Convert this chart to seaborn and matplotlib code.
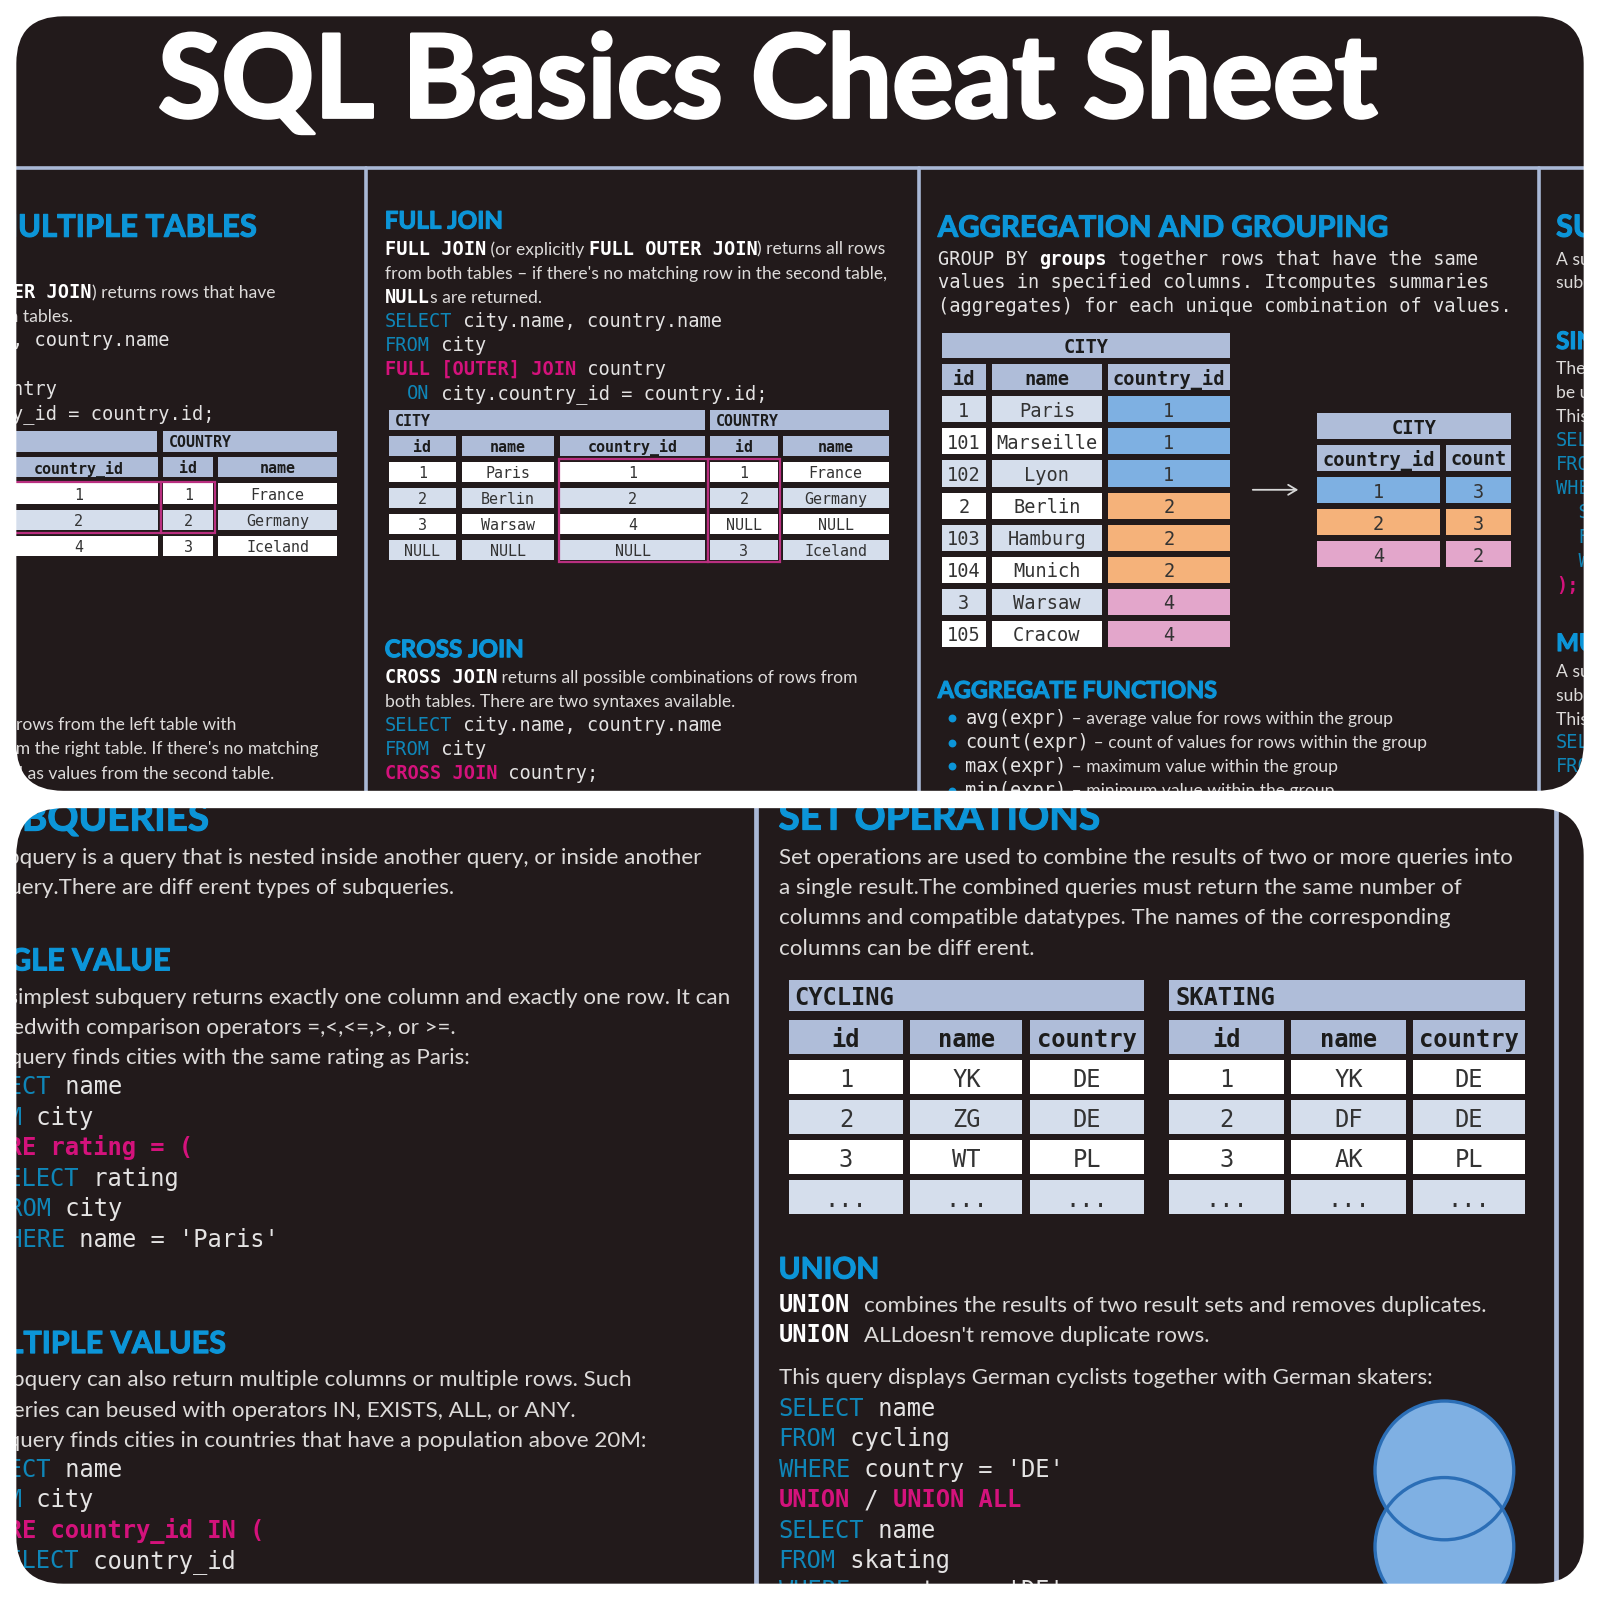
import numpy as np
import matplotlib
matplotlib.use("Agg")
import matplotlib.pyplot as plt
import matplotlib.patheffects as pe
import seaborn as sns
from matplotlib.colors import ListedColormap
from matplotlib.patches import FancyBboxPatch, PathPatch, Circle, Rectangle
from matplotlib.path import Path

sns.set_theme(style="white")
plt.rcParams["font.family"] = ["Lato", "DejaVu Sans"]

# picture was measured in a 1568 wide view
W = 1568
BG = "#221a1b"
RULE = "#a9b8d6"
HEAD_BLUE = "#0c95d8"
KEY_BLUE = "#0f86b8"
PINK = "#d4127c"
BODY = "#dddbda"
CODE = "#e4e3e3"
OUTLINE = "#b92f80"
CELL_TEXT = "#333333"

cell_colors = ["#ffffff", "#d5deec", "#afbdd9", "#7eb0e2", "#f5b27a", "#e3a6cb"]
WHITE, LIGHT, HEAD, BLUE, ORANGE, ROSE = range(6)

# text
title = "SQL Basics Cheat Sheet"

inner_lines = [
    [("SELECT city.name, country.name", "c")],
    [("FROM city", "c")],
    [("[INNER] JOIN country", "c")],
    [("  ON city.country_id = country.id;", "c")],
]
left_join_lines = [
    "LEFT JOIN returns all rows from the left table with",
    "matching rows from the right table. If there's no matching",
    "row, NULLs are returned as values from the second table.",
]
full_join_lines = [
    [("FULL JOIN", "b"), (" (or explicitly ", "t"), ("FULL OUTER JOIN", "b"), (") returns all rows", "t")],
    [("from both tables – if there's no matching row in the second table,", "t")],
    [("NULL", "b"), ("s are returned.", "t")],
    [("SELECT", "k"), (" city.name, country.name", "c")],
    [("FROM", "k"), (" city", "c")],
    [("FULL [OUTER] JOIN", "p"), (" country", "c")],
    [("  ", "c"), ("ON", "k"), (" city.country_id = country.id;", "c")],
]
cross_join_lines = [
    [("CROSS JOIN", "b"), (" returns all possible combinations of rows from", "t")],
    [("both tables. There are two syntaxes available.", "t")],
    [("SELECT", "k"), (" city.name, country.name", "c")],
    [("FROM", "k"), (" city", "c")],
    [("CROSS JOIN", "p"), (" country;", "c")],
]
group_lines = [
    [("GROUP BY ", "c"), ("groups", "b"), (" together rows that have the same", "c")],
    [("values in specified columns. Itcomputes summaries", "c")],
    [("(aggregates) for each unique combination of values.", "c")],
]
agg_lines = [
    [("avg(expr)", "c"), (" – average value for rows within the group", "t")],
    [("count(expr)", "c"), (" – count of values for rows within the group", "t")],
    [("max(expr)", "c"), (" – maximum value within the group", "t")],
    [("min(expr)", "c"), (" – minimum value within the group", "t")],
]
edge_sub_intro = ["A subquery is a query that is nested inside another", "subquery is used"]
edge_single = [
    [("The simplest subquery", "t")],
    [("be used with comparison", "t")],
    [("This query finds", "t")],
    [("SELECT", "k")],
    [("FROM", "k")],
    [("WHERE", "k")],
    [("  SELECT", "k")],
    [("  FROM", "k")],
    [("  WHERE", "k")],
    [(");", "p")],
]
edge_multi = [
    [("A subquery can", "t")],
    [("subqueries can", "t")],
    [("This query finds", "t")],
    [("SELECT", "k")],
    [("FROM", "k")],
]

sub_intro = [
    "A subquery is a query that is nested inside another query, or inside another",
    "subquery.There are diff erent types of subqueries.",
]
single_text = [
    "The simplest subquery returns exactly one column and exactly one row. It can",
    "be usedwith comparison operators =,<,<=,>, or >=.",
    "This query finds cities with the same rating as Paris:",
]
single_code = [
    [("SELECT", "k"), (" name", "c")],
    [("FROM", "k"), (" city", "c")],
    [("WHERE rating = (", "p")],
    [("  ", "c"), ("SELECT", "k"), (" rating", "c")],
    [("  ", "c"), ("FROM", "k"), (" city", "c")],
    [("  ", "c"), ("WHERE", "k"), (" name = 'Paris'", "c")],
]
multi_text = [
    "A subquery can also return multiple columns or multiple rows. Such",
    "subqueries can beused with operators IN, EXISTS, ALL, or ANY.",
    "This query finds cities in countries that have a population above 20M:",
]
multi_code = [
    [("SELECT", "k"), (" name", "c")],
    [("FROM", "k"), (" city", "c")],
    [("WHERE country_id IN (", "p")],
    [("  ", "c"), ("SELECT", "k"), (" country_id", "c")],
]
set_text = [
    "Set operations are used to combine the results of two or more queries into",
    "a single result.The combined queries must return the same number of",
    "columns and compatible datatypes. The names of the corresponding",
    "columns can be diff erent.",
]
union_code = [
    [("SELECT", "k"), (" name", "c")],
    [("FROM", "k"), (" cycling", "c")],
    [("WHERE", "k"), (" country = 'DE'", "c")],
    [("UNION", "p"), (" / ", "c"), ("UNION ALL", "p")],
    [("SELECT", "k"), (" name", "c")],
    [("FROM", "k"), (" skating", "c")],
    [("WHERE", "k"), (" country = 'DE'", "c")],
]

# tables
inner_country_id = ["country_id", "1", "2", "4"]
inner_id = ["id", "1", "2", "3"]
inner_name = ["name", "France", "Germany", "Iceland"]

full_city_id = ["id", "1", "2", "3", "NULL"]
full_city_name = ["name", "Paris", "Berlin", "Warsaw", "NULL"]
full_country_id = ["country_id", "1", "2", "4", "NULL"]
full_id = ["id", "1", "2", "NULL", "3"]
full_name = ["name", "France", "Germany", "NULL", "Iceland"]

city_id = ["id", "1", "101", "102", "2", "103", "104", "3", "105"]
city_name = ["name", "Paris", "Marseille", "Lyon", "Berlin", "Hamburg", "Munich", "Warsaw", "Cracow"]
city_country = ["country_id", "1", "1", "1", "2", "2", "2", "4", "4"]
group_country = ["country_id", "1", "2", "4"]
group_count = ["count", "3", "3", "2"]

cycling_id = ["id", "1", "2", "3", "..."]
cycling_name = ["name", "YK", "ZG", "WT", "..."]
cycling_country = ["country", "DE", "DE", "PL", "..."]
skating_id = ["id", "1", "2", "3", "..."]
skating_name = ["name", "YK", "DF", "AK", "..."]
skating_country = ["country", "DE", "DE", "PL", "..."]

SANS_TOP, MONO_TOP = 12.65, 13.42
SANS_BIG, MONO_BIG = 16.1, 17.1
SMALL_CELL = 10.8

fig = plt.figure(figsize=(16, 16), dpi=100, facecolor="white")
ax = fig.add_axes([0, 0, 1, 1], facecolor=BG)
ax.set_xlim(0, W)
ax.set_ylim(W, 0)
ax.set_xticks([])
ax.set_yticks([])
for s in ax.spines.values():
    s.set_visible(False)
renderer = fig.canvas.get_renderer()


def text_style(kind, big):
    sans = SANS_BIG if big else SANS_TOP
    mono = MONO_BIG if big else MONO_TOP
    if kind == "t":
        return dict(family="Lato", size=sans, color=BODY)
    if kind == "c":
        return dict(family="DejaVu Sans Mono", size=mono, color=CODE)
    if kind == "b":
        return dict(family="DejaVu Sans Mono", size=mono, color="white", weight="bold")
    if kind == "k":
        return dict(family="DejaVu Sans Mono", size=mono, color=KEY_BLUE)
    return dict(family="DejaVu Sans Mono", size=mono, color=PINK, weight="bold")


def run_width(text, style):
    # bars on both sides so that spaces count
    t = ax.text(0, 0, "|" + text + "|", **style)
    full = t.get_window_extent(renderer).width
    t.set_text("||")
    bars = t.get_window_extent(renderer).width
    t.remove()
    return (full - bars) * W / 1600


def draw_line(x, y, runs, big=False, right=False):
    base = y + 0.3 * (MONO_BIG if big else MONO_TOP) * 100 / 72 * W / 1600 + (0.6 if big else 0)
    if right:
        x = x - sum(run_width(r[0], text_style(r[1], big)) for r in runs)
    for txt, kind in runs:
        st = text_style(kind, big)
        ax.text(x, base, txt, va="baseline", ha="left", **st)
        x += run_width(txt, st)


def draw_block(x, y, pitch, lines, big=False):
    for i, runs in enumerate(lines):
        draw_line(x, y + i * pitch, runs, big)


def as_runs(lines):
    return [[(l, "t")] for l in lines]


def heading(x, y, txt, size, right=False):
    ax.text(x, y, txt, family="Lato", weight="bold", size=size, color=HEAD_BLUE,
            va="baseline", ha="right" if right else "left",
            path_effects=[pe.withStroke(linewidth=0.8, foreground=HEAD_BLUE)])


def column(x0, x1, top, bottom, labels, codes, size, gap=2.9):
    # one heatmap per column because the widths differ
    pad = gap * 100 / 72 / 2 * W / 1600
    tab = fig.add_axes([(x0 - pad) / W, 1 - (bottom + pad) / W,
                        (x1 - x0 + 2 * pad) / W, (bottom - top + 2 * pad) / W], zorder=1)
    sns.heatmap(np.array(codes).reshape(-1, 1), annot=np.array(labels).reshape(-1, 1), fmt="",
                cmap=ListedColormap(cell_colors), vmin=-0.5, vmax=5.5, cbar=False,
                linewidths=gap, linecolor=BG, xticklabels=False, yticklabels=False,
                annot_kws=dict(family="DejaVu Sans Mono", size=size, color=CELL_TEXT, va="center_baseline"),
                ax=tab)
    # first row is the header
    tab.texts[0].set_weight("bold")
    tab.texts[0].set_color("#1c1c1c")
    return tab


def title_bar(x0, x1, top, bottom, label, size, left=True, gap=2.9):
    pad = gap * 100 / 72 / 2 * W / 1600
    tab = fig.add_axes([(x0 - pad) / W, 1 - (bottom + pad) / W,
                        (x1 - x0 + 2 * pad) / W, (bottom - top + 2 * pad) / W], zorder=1)
    sns.heatmap(np.array([[HEAD]]), cmap=ListedColormap(cell_colors), vmin=-0.5, vmax=5.5,
                cbar=False, linewidths=gap, linecolor=BG, xticklabels=False, yticklabels=False, ax=tab)
    inset = 8.5 / (x1 - x0)
    tab.text(inset if left else 0.5, 0.5, label, transform=tab.transAxes, family="DejaVu Sans Mono",
             weight="bold", size=size, color="#1c1c1c", va="center_baseline", ha="left" if left else "center")


def stripes(n, first=WHITE):
    other = LIGHT if first == WHITE else WHITE
    return [HEAD] + [first if i % 2 == 0 else other for i in range(n)]


# title and rules
ax.text(752.5, 115, title, family="Lato", weight="bold", size=83, color="white", ha="center", va="baseline",
        path_effects=[pe.withStroke(linewidth=2.2, foreground="white")])
ax.plot([0, W], [165, 165], color=RULE, lw=2.6)
for vx in [359, 901, 1508]:
    ax.plot([vx, vx], [165, 780], color=RULE, lw=2.6)
for vx in [741, 1525]:
    ax.plot([vx, vx], [785, W], color=RULE, lw=3.4)

# column one of the top panel
heading(252, 232, "MULTIPLE TABLES", 22.3, right=True)
draw_line(90, 287, [("INNER JOIN", "b")], right=True)
draw_line(90, 287, [(") returns rows that have", "t")])
draw_line(71, 310, [("matching values in both tables.", "t")], right=True)
draw_block(-165, 334, 23.6, inner_lines)
title_bar(-100, 155, 421, 444, "CITY", SMALL_CELL)
title_bar(159, 331, 421, 444, "COUNTRY", SMALL_CELL)
column(-2, 156, 447, 546, inner_country_id, stripes(3), SMALL_CELL)
column(159, 210, 447, 546, inner_id, stripes(3), SMALL_CELL)
column(213, 331, 447, 546, inner_name, stripes(3), SMALL_CELL)
draw_end_x = [232, 312, 269]
for i, l in enumerate(left_join_lines):
    draw_line(draw_end_x[i], 710 + i * 23.6, [(l, "t")], right=True)

# column two
heading(377, 224, "FULL JOIN", 17.4)
draw_block(377, 244, 23.6, full_join_lines)
title_bar(380, 692, 401, 422, "CITY", SMALL_CELL)
title_bar(695, 872, 401, 422, "COUNTRY", SMALL_CELL)
column(380, 448, 426, 550, full_city_id, stripes(4), SMALL_CELL)
column(452, 544, 426, 550, full_city_name, stripes(4), SMALL_CELL)
column(548, 692, 426, 550, full_country_id, stripes(4), SMALL_CELL)
column(695, 763, 426, 550, full_id, stripes(4), SMALL_CELL)
column(766, 872, 426, 550, full_name, stripes(4), SMALL_CELL)
heading(377, 644, "CROSS JOIN", 17.4)
draw_block(377, 664, 23.6, cross_join_lines)

# column three
heading(919, 232, "AGGREGATION AND GROUPING", 21.2)
draw_block(919, 254, 23.2, group_lines)
title_bar(922, 1206, 325, 352, "CITY", MONO_TOP, left=False)
column(922, 967, 356, 635, city_id, stripes(8, LIGHT), MONO_TOP)
column(971, 1081, 356, 635, city_name, stripes(8, LIGHT), MONO_TOP)
column(1085, 1206, 356, 635, city_country, [HEAD, BLUE, BLUE, BLUE, ORANGE, ORANGE, ORANGE, ROSE, ROSE], MONO_TOP)
title_bar(1290, 1482, 404, 431, "CITY", MONO_TOP, left=False)
column(1290, 1412, 435, 557, group_country, [HEAD, BLUE, ORANGE, ROSE], MONO_TOP)
column(1416, 1482, 435, 557, group_count, [HEAD, BLUE, ORANGE, ROSE], MONO_TOP)
ax.annotate("", xy=(1275, 480), xytext=(1225, 480),
            arrowprops=dict(arrowstyle="->,head_length=0.5,head_width=0.3", color="#d8d8d8", lw=1.3))
heading(919, 684, "AGGREGATE FUNCTIONS", 16.8)
draw_block(946, 704, 23.6, agg_lines)
sns.scatterplot(x=[933] * len(agg_lines), y=[704, 728, 751, 775], color=HEAD_BLUE, s=32, linewidth=0, ax=ax, legend=False)
ax.set_xlim(0, W)
ax.set_ylim(W, 0)

# column four, only its start shows
heading(1525, 232, "SUBQUERIES", 22)
draw_block(1525, 254, 23.2, as_runs(edge_sub_intro))
heading(1525, 342, "SINGLE VALUE", 17.4)
draw_block(1525, 361, 23.6, edge_single)
heading(1525, 638, "MULTIPLE VALUES", 17.4)
draw_block(1525, 658, 23.3, edge_multi)

# bottom left
heading(205, 814, "SUBQUERIES", 27.8, right=True)
for i, (l, end) in enumerate(zip(sub_intro, [687, 445])):
    draw_line(end, 839 + i * 29.7, [(l, "t")], big=True, right=True)
heading(167, 951, "SINGLE VALUE", 22, right=True)
for i, (l, end) in enumerate(zip(single_text, [716, 447, 460])):
    draw_line(end, 976 + i * 29.8, [(l, "t")], big=True, right=True)
draw_block(-34, 1065, 29.8, single_code, big=True)
heading(221, 1326, "MULTIPLE VALUES", 22, right=True)
for i, (l, end) in enumerate(zip(multi_text, [619, 564, 633])):
    draw_line(end, 1351 + i * 29.6, [(l, "t")], big=True, right=True)
draw_block(-34, 1440, 29.7, multi_code, big=True)

# bottom right
heading(763, 813, "SET OPERATIONS", 27.8)
draw_block(763, 839, 29.7, as_runs(set_text), big=True)
title_bar(772, 1122, 959, 992, "CYCLING", MONO_BIG)
title_bar(1145, 1495, 959, 992, "SKATING", MONO_BIG)
column(772, 886, 999, 1191, cycling_id, stripes(4), MONO_BIG)
column(891, 1003, 999, 1191, cycling_name, stripes(4), MONO_BIG)
column(1008, 1122, 999, 1191, cycling_country, stripes(4), MONO_BIG)
column(1145, 1259, 999, 1191, skating_id, stripes(4), MONO_BIG)
column(1264, 1379, 999, 1191, skating_name, stripes(4), MONO_BIG)
column(1384, 1495, 999, 1191, skating_country, stripes(4), MONO_BIG)
heading(763, 1253, "UNION", 21.4)
draw_line(763, 1278, [("UNION", "b")], big=True)
draw_line(847, 1278, [("combines the results of two result sets and removes duplicates.", "t")], big=True)
draw_line(763, 1308, [("UNION", "b")], big=True)
draw_line(847, 1308, [("ALLdoesn't remove duplicate rows.", "t")], big=True)
draw_line(763, 1349, [("This query displays German cyclists together with German skaters:", "t")], big=True)
draw_block(763, 1380, 29.8, union_code, big=True)
for cy in [1441, 1516]:
    ax.add_patch(Circle((1415.5, cy), 68, facecolor="#7fb0e3", edgecolor="none", zorder=3))
for cy in [1441, 1516]:
    ax.add_patch(Circle((1415.5, cy), 68, facecolor="none", edgecolor="#2b6eb6", lw=2.4, zorder=4))

# overlay for outlines and the white frame
top = fig.add_axes([0, 0, 1, 1], zorder=10, facecolor="none")
top.set_xlim(0, W)
top.set_ylim(W, 0)
top.axis("off")
for (x0, y0, x1, y1) in [(0, 472, 157.5, 522), (157.5, 472, 211, 522), (548, 450, 693.5, 551), (693.5, 450, 764.5, 551)]:
    top.add_patch(Rectangle((x0, y0), x1 - x0, y1 - y0, fill=False, edgecolor=OUTLINE, lw=1.6))

outer = np.array([[-5, -5], [W + 5, -5], [W + 5, W + 5], [-5, W + 5], [-5, -5]], dtype=float)
rings = [outer]
for (x0, y0, x1, y1) in [(16, 16, 1552, 775), (16, 792, 1552, 1552)]:
    box = FancyBboxPatch((x0, y0), x1 - x0, y1 - y0, boxstyle="round,pad=0,rounding_size=46")
    rings.append(box.get_path().to_polygons()[0][::-1])
top.add_patch(PathPatch(Path.make_compound_path(*[Path(r) for r in rings]), facecolor="white", edgecolor="none", zorder=5))

fig.savefig("out.png", dpi=100, facecolor="white")
